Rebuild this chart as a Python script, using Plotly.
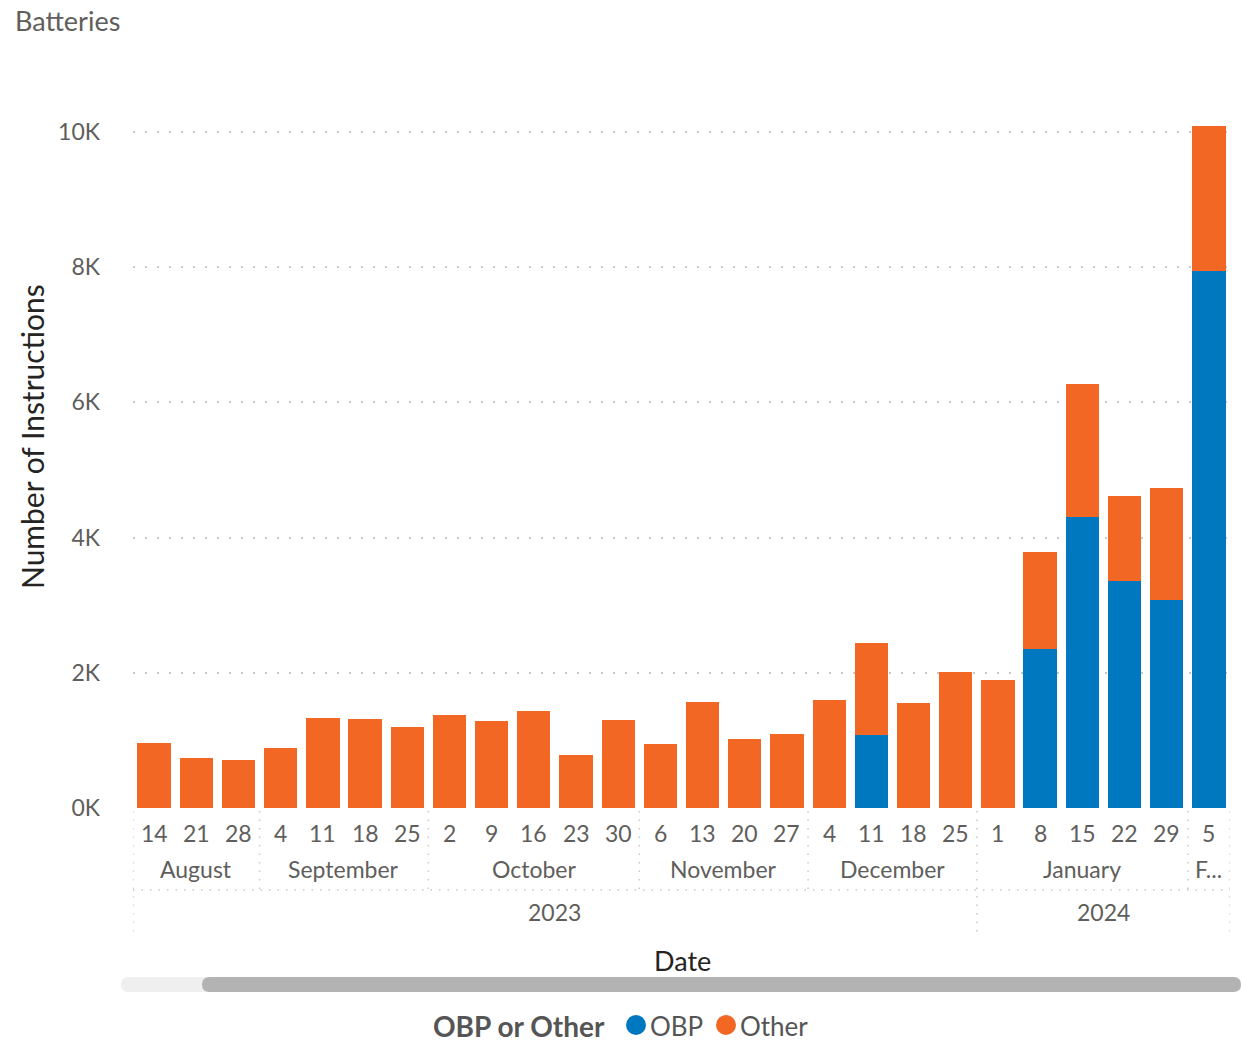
import plotly.graph_objects as go
from datetime import date

# ---------------- data ----------------
week_starts = ["2023-08-14", "2023-08-21", "2023-08-28", "2023-09-04", "2023-09-11",
               "2023-09-18", "2023-09-25", "2023-10-02", "2023-10-09", "2023-10-16",
               "2023-10-23", "2023-10-30", "2023-11-06", "2023-11-13", "2023-11-20",
               "2023-11-27", "2023-12-04", "2023-12-11", "2023-12-18", "2023-12-25",
               "2024-01-01", "2024-01-08", "2024-01-15", "2024-01-22", "2024-01-29",
               "2024-02-05"]
obp = [0, 0, 0, 0, 0, 0, 0, 0, 0, 0, 0, 0, 0, 0, 0, 0, 0,
       1080, 0, 0, 0, 2350, 4310, 3360, 3080, 7940]
other = [960, 740, 710, 890, 1330, 1320, 1200, 1380, 1290, 1430, 780, 1300, 950,
         1570, 1020, 1090, 1600, 1360, 1550, 2010, 1890, 1440, 1960, 1250, 1650, 2150]
month_names = {8: "August", 9: "September", 10: "October", 11: "November",
               12: "December", 1: "January", 2: "F..."}
y_ticks = [0, 2000, 4000, 6000, 8000, 10000]
y_tick_text = ["0K", "2K", "4K", "6K", "8K", "10K"]
legend_title = "OBP or Other"
series_names = ["OBP", "Other"]

# ---------------- layout constants ----------------
W, H = 1242, 1045
ML, MR, MT, MB = 133, 12, 105, 237
PW, PH = W - ML - MR, H - MT - MB
FONT = "Lato, Segoe UI, Noto Sans, sans-serif"
GRAY = "#605E5C"
DARK = "#252423"
SEP = "#c8c8c8"
C_OBP = "#0078C0"
C_OTHER = "#F26724"


def px(x):  # pixel -> paper x
    return (x - ML) / PW


def py(y):  # pixel -> paper y
    return (H - MB - y) / PH


dates = [date.fromisoformat(d) for d in week_starts]
idx = list(range(len(dates)))

fig = go.Figure()
fig.add_trace(go.Bar(x=idx, y=obp, name=series_names[0],
                     marker=dict(color=C_OBP, line=dict(width=0)), showlegend=False))
fig.add_trace(go.Bar(x=idx, y=other, name=series_names[1],
                     marker=dict(color=C_OTHER, line=dict(width=0)), showlegend=False))

annotations = []
shapes = []
TS = 23

# day labels
for i, d in enumerate(dates):
    annotations.append(dict(x=i, y=py(833), xref="x", yref="paper", text=str(d.day),
                            showarrow=False, font=dict(size=TS, color=GRAY, family=FONT),
                            xanchor="center", yanchor="middle"))

# month groups
groups = []
for i, d in enumerate(dates):
    key = (d.year, d.month)
    if groups and groups[-1][0] == key:
        groups[-1][2] = i
    else:
        groups.append([key, i, i])
for key, a, b in groups:
    annotations.append(dict(x=(a + b) / 2, y=py(869), xref="x", yref="paper",
                            text=month_names[key[1]], showarrow=False,
                            font=dict(size=TS, color=GRAY, family=FONT),
                            xanchor="center", yanchor="middle"))
# year groups
ygroups = []
for i, d in enumerate(dates):
    if ygroups and ygroups[-1][0] == d.year:
        ygroups[-1][2] = i
    else:
        ygroups.append([d.year, i, i])
for yr, a, b in ygroups:
    annotations.append(dict(x=(a + b) / 2, y=py(912), xref="x", yref="paper",
                            text=str(yr), showarrow=False,
                            font=dict(size=TS, color=GRAY, family=FONT),
                            xanchor="center", yanchor="middle"))

dot = dict(color=SEP, width=1.5, dash="1.5px,7px")
year_bounds = [b + 0.5 for _, _, b in ygroups[:-1]]
for _, a, b in groups[:-1]:
    xb = b + 0.5
    y_end = 935 if xb in year_bounds else 890
    shapes.append(dict(type="line", xref="x", yref="paper", x0=xb, x1=xb,
                       y0=py(811), y1=py(y_end), line=dot))
for xb in [-0.5, len(dates) - 0.5]:
    shapes.append(dict(type="line", xref="x", yref="paper", x0=xb, x1=xb,
                       y0=py(811), y1=py(935), line=dot))
shapes.append(dict(type="line", xref="x", yref="paper", x0=-0.5, x1=len(dates) - 0.5,
                   y0=py(890), y1=py(890), line=dot))


def pill(x0, x1, yt, yb, color):
    r = (yb - yt) / 2
    m = (yt + yb) / 2
    pts = (f"M {px(x0 + r)},{py(yt)} L {px(x1 - r)},{py(yt)} "
           f"Q {px(x1)},{py(yt)} {px(x1)},{py(m)} Q {px(x1)},{py(yb)} {px(x1 - r)},{py(yb)} "
           f"L {px(x0 + r)},{py(yb)} Q {px(x0)},{py(yb)} {px(x0)},{py(m)} "
           f"Q {px(x0)},{py(yt)} {px(x0 + r)},{py(yt)} Z")
    return dict(type="path", xref="paper", yref="paper", path=pts,
                fillcolor=color, line=dict(width=0), layer="above")


shapes.append(pill(121, 1241, 977, 992, "#efefef"))
shapes.append(pill(202, 1241, 977, 992, "#b3b3b3"))

# legend (drawn manually to match compact Power BI legend)
LY = 1026
annotations.append(dict(x=px(607), y=py(LY), xref="paper", yref="paper",
                        text="<b>" + legend_title + "</b>", showarrow=False,
                        xanchor="right", yanchor="middle",
                        font=dict(size=28, color="#555555", family=FONT)))
for nm, col, cx in [(series_names[0], C_OBP, 636), (series_names[1], C_OTHER, 726)]:
    shapes.append(dict(type="circle", xref="paper", yref="paper", xsizemode="pixel",
                       ysizemode="pixel", xanchor=px(cx), yanchor=py(LY - 1),
                       x0=-10, x1=10, y0=-10, y1=10, fillcolor=col, line=dict(width=0)))
    annotations.append(dict(x=px(cx + 12), y=py(LY), xref="paper", yref="paper",
                            text=nm, showarrow=False, xanchor="left", yanchor="middle",
                            font=dict(size=26, color="#555555", family=FONT)))

# titles
annotations.append(dict(x=px(13), y=py(20), xref="paper", yref="paper", text="Batteries",
                        showarrow=False, xanchor="left", yanchor="middle",
                        font=dict(size=27, color=GRAY, family=FONT)))
annotations.append(dict(x=px(682), y=py(960), xref="paper", yref="paper", text="Date",
                        showarrow=False, xanchor="center", yanchor="middle",
                        font=dict(size=27, color=DARK, family=FONT)))
annotations.append(dict(x=px(32), y=py(437), xref="paper", yref="paper",
                        text="Number of Instructions", textangle=-90,
                        showarrow=False, xanchor="center", yanchor="middle",
                        font=dict(size=30, color=DARK, family=FONT)))

fig.update_layout(
    width=W, height=H,
    margin=dict(l=ML, r=MR, t=MT, b=MB, pad=0),
    barmode="stack", bargap=0.21,
    plot_bgcolor="white", paper_bgcolor="white",
    font=dict(family=FONT, color=GRAY),
    showlegend=False,
    annotations=annotations, shapes=shapes,
    xaxis=dict(range=[-0.5, len(dates) - 0.5], showticklabels=False, showgrid=False,
               zeroline=False, showline=False, ticks=""),
    yaxis=dict(range=[0, 10400], tickvals=y_ticks, ticktext=y_tick_text,
               tickfont=dict(size=TS, color=GRAY, family=FONT),
               showgrid=True, gridcolor=SEP, gridwidth=1.5, griddash="2px,10px",
               zeroline=False, showline=False, ticks="", ticklabelstandoff=32),
)

fig.write_html("out.html", config={"displayModeBar": False},
               post_script="document.body.style.margin='0px';document.body.style.overflow='hidden';")
